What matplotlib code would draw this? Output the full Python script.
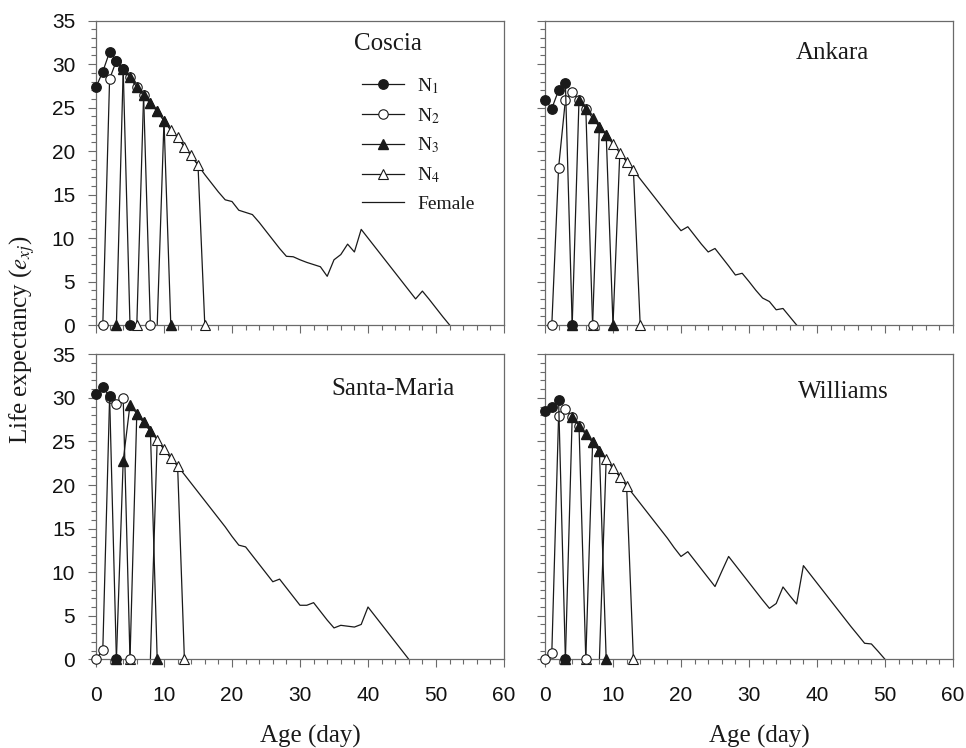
import matplotlib
matplotlib.use("Agg")
import matplotlib.pyplot as plt
from matplotlib.ticker import MultipleLocator, NullFormatter

# ---- data: life expectancy e_xj by age (day) ----
# Coscia
coscia_n1_age = [0, 1, 2, 3, 4, 5]
coscia_n1_e = [27.35, 29.15, 31.4, 30.4, 29.4, 0]
coscia_n2_age = [1, 2, 3, 4, 5, 6, 7, 8]
coscia_n2_e = [0, 28.3, 30.4, 29.4, 28.5, 27.35, 26.4, 0]
coscia_n3_age = [3, 4, 5, 6, 7, 8, 9, 10, 11]
coscia_n3_e = [0, 29.4, 28.5, 27.35, 26.4, 25.5, 24.6, 23.5, 0]
coscia_n4_age = [6, 7, 8, 9, 10, 11, 12, 13, 14, 15, 16]
coscia_n4_e = [0, 26.4, 25.5, 24.6, 23.5, 22.4, 21.6, 20.5, 19.5, 18.4, 0]
coscia_f_age = list(range(9, 53))
coscia_f_e = [0, 23.5, 22.4, 21.6, 20.5, 19.5, 18.4, 17.3, 16.3, 15.3, 14.4,
              14.2, 13.2, 12.95, 12.7, 11.8, 10.8, 9.8, 8.8, 7.9, 7.85, 7.5,
              7.2, 6.95, 6.7, 5.6, 7.5, 8.1, 9.3, 8.4, 11.0, 10.0, 9.0, 8.0,
              7.0, 6.0, 5.0, 4.0, 3.0, 3.9, 2.95, 1.95, 0.95, 0]

# Ankara
ankara_n1_age = [0, 1, 2, 3, 4]
ankara_n1_e = [25.9, 24.9, 27.0, 27.8, 0]
ankara_n2_age = [1, 2, 3, 4, 5, 6, 7]
ankara_n2_e = [0, 18.1, 25.9, 26.8, 25.9, 24.9, 0]
ankara_n3_age = [4, 5, 6, 7, 8, 9, 10]
ankara_n3_e = [0, 25.9, 24.9, 23.8, 22.8, 21.9, 0]
ankara_n4_age = [7, 8, 9, 10, 11, 12, 13, 14]
ankara_n4_e = [0, 22.8, 21.9, 20.8, 19.8, 18.8, 17.8, 0]
ankara_f_age = list(range(10, 38))
ankara_f_e = [0, 19.8, 18.8, 17.8, 16.8, 15.8, 14.8, 13.8, 12.8, 11.8, 10.85,
              11.3, 10.3, 9.3, 8.4, 8.8, 7.8, 6.8, 5.75, 5.95, 5.0, 4.0, 3.1,
              2.7, 1.75, 1.9, 0.95, 0]

# Santa-Maria
santa_n1_age = [0, 1, 2, 3]
santa_n1_e = [30.5, 31.2, 30.2, 0]
santa_n2_age = [0, 1, 2, 3, 4, 5]
santa_n2_e = [0, 1.07, 30.0, 29.3, 30.0, 0]
santa_n3_age = [3, 4, 5, 6, 7, 8, 9]
santa_n3_e = [0, 22.8, 29.2, 28.2, 27.2, 26.2, 0]
santa_n4_age = [5, 6, 7, 8, 9, 10, 11, 12, 13]
santa_n4_e = [0, 28.2, 27.2, 26.2, 25.2, 24.1, 23.1, 22.2, 0]
santa_f_age = list(range(8, 47))
santa_f_e = [0, 25.2, 24.1, 23.1, 22.2, 21.2, 20.2, 19.2, 18.2, 17.2, 16.2,
             15.2, 14.1, 13.1, 12.9, 11.9, 10.9, 9.9, 8.9, 9.2, 8.2, 7.2, 6.2,
             6.2, 6.5, 5.5, 4.5, 3.6, 3.9, 3.8, 3.7, 4.0, 6.0, 5.0, 4.0, 3.0,
             2.0, 1.0, 0]

# Williams
williams_n1_age = [0, 1, 2, 3]
williams_n1_e = [28.5, 29.0, 29.8, 0]
williams_n2_age = [0, 1, 2, 3, 4, 5, 6]
williams_n2_e = [0, 0.7, 27.9, 28.7, 27.85, 26.8, 0]
williams_n3_age = [3, 4, 5, 6, 7, 8, 9]
williams_n3_e = [0, 27.85, 26.8, 25.8, 24.9, 23.9, 0]
williams_n4_age = [6, 7, 8, 9, 10, 11, 12, 13]
williams_n4_e = [0, 24.9, 23.9, 22.96, 21.9, 20.96, 19.9, 0]
williams_f_age = list(range(8, 51))
williams_f_e = [0, 23.0, 21.9, 21.0, 19.9, 18.9, 17.9, 16.9, 15.9, 14.9, 13.9,
                12.8, 11.8, 12.35, 11.35, 10.35, 9.35, 8.35, 10.1, 11.8, 10.8,
                9.8, 8.8, 7.8, 6.8, 5.85, 6.4, 8.3, 7.3, 6.35, 10.75, 9.75,
                8.75, 7.75, 6.75, 5.75, 4.75, 3.75, 2.8, 1.84, 1.76, 0.9, 0]

# ---- style ----
plt.rcParams["font.family"] = "Liberation Sans"
plt.rcParams["mathtext.fontset"] = "stix"
SERIF = "Liberation Serif"
INK = "#1a1a1a"
SPINE = "#6a6a6a"
LW = 0.9
MS = 6.8


def draw_panel(ax, name, name_xy, series, show_ylab, show_xlab):
    (n1x, n1y), (n2x, n2y), (n3x, n3y), (n4x, n4y), (fx, fy) = series
    # 描画順: Female -> N4 -> N2 -> N3 -> N1
    hf, = ax.plot(fx, fy, "-", color=INK, lw=LW, zorder=2, label="Female",
                  clip_on=False)
    h4, = ax.plot(n4x, n4y, "-^", color=INK, lw=LW, ms=MS, mfc="white",
                  mec=INK, mew=0.8, zorder=3, label=r"N$_\mathrm{4}$",
                  clip_on=False)
    h2, = ax.plot(n2x, n2y, "-o", color=INK, lw=LW, ms=MS, mfc="white",
                  mec=INK, mew=0.8, zorder=4, label=r"N$_\mathrm{2}$",
                  clip_on=False)
    h3, = ax.plot(n3x, n3y, "-^", color=INK, lw=LW, ms=MS, mfc=INK,
                  mec=INK, zorder=5, label=r"N$_\mathrm{3}$", clip_on=False)
    h1, = ax.plot(n1x, n1y, "-o", color=INK, lw=LW, ms=MS, mfc=INK,
                  mec=INK, zorder=6, label=r"N$_\mathrm{1}$", clip_on=False)

    ax.set_xlim(0, 60)
    ax.set_ylim(0, 35)
    ax.xaxis.set_major_locator(MultipleLocator(10))
    ax.xaxis.set_minor_locator(MultipleLocator(2))
    ax.yaxis.set_major_locator(MultipleLocator(5))
    ax.yaxis.set_minor_locator(MultipleLocator(1))
    ax.tick_params(axis="both", which="major", direction="out", length=6,
                   width=0.8, color=SPINE, labelsize=15)
    ax.tick_params(axis="both", which="minor", direction="out", length=3.5,
                   width=0.8, color=SPINE)
    ax.tick_params(axis="x", which="major", pad=13)
    ax.tick_params(axis="y", which="major", pad=9)
    for s in ax.spines.values():
        s.set_color(SPINE)
        s.set_linewidth(0.9)
    if not show_ylab:
        ax.yaxis.set_major_formatter(NullFormatter())
    if not show_xlab:
        ax.xaxis.set_major_formatter(NullFormatter())
    for lab in ax.get_xticklabels() + ax.get_yticklabels():
        lab.set_color("#111111")

    ax.text(name_xy[0], name_xy[1], name, transform=ax.transAxes,
            ha="center", va="center", fontsize=18, family=SERIF, color=INK)
    return [h1, h2, h3, h4, hf]


fig = plt.figure(figsize=(9.66, 7.48), dpi=100)
W, H = 966.0, 748.0
ax_tl = fig.add_axes([96 / W, 1 - 325 / H, 408 / W, 304.3 / H])
ax_tr = fig.add_axes([545 / W, 1 - 325 / H, 408 / W, 304.3 / H])
ax_bl = fig.add_axes([96 / W, 1 - 659.3 / H, 408 / W, 305 / H])
ax_br = fig.add_axes([545 / W, 1 - 659.3 / H, 408 / W, 305 / H])

handles = draw_panel(ax_tl, "Coscia", (0.716, 0.924),
                     [(coscia_n1_age, coscia_n1_e), (coscia_n2_age, coscia_n2_e),
                      (coscia_n3_age, coscia_n3_e), (coscia_n4_age, coscia_n4_e),
                      (coscia_f_age, coscia_f_e)], True, False)
draw_panel(ax_tr, "Ankara", (0.705, 0.895),
           [(ankara_n1_age, ankara_n1_e), (ankara_n2_age, ankara_n2_e),
            (ankara_n3_age, ankara_n3_e), (ankara_n4_age, ankara_n4_e),
            (ankara_f_age, ankara_f_e)], False, False)
draw_panel(ax_bl, "Santa-Maria", (0.729, 0.885),
           [(santa_n1_age, santa_n1_e), (santa_n2_age, santa_n2_e),
            (santa_n3_age, santa_n3_e), (santa_n4_age, santa_n4_e),
            (santa_f_age, santa_f_e)], True, True)
draw_panel(ax_br, "Williams", (0.732, 0.877),
           [(williams_n1_age, williams_n1_e), (williams_n2_age, williams_n2_e),
            (williams_n3_age, williams_n3_e), (williams_n4_age, williams_n4_e),
            (williams_f_age, williams_f_e)], False, True)

leg = ax_tl.legend(handles=handles, loc="upper left",
                   bbox_to_anchor=(0.651, 0.818), frameon=False,
                   prop={"family": SERIF, "size": 14}, handlelength=2.2,
                   handletextpad=0.65, labelspacing=0.52, borderpad=0,
                   borderaxespad=0)
for t in leg.get_texts():
    t.set_color(INK)

# axis titles
fig.text(310 / W, 1 - 736 / H, "Age (day)", ha="center", va="center",
         fontsize=18, family=SERIF, color=INK)
fig.text(759 / W, 1 - 736 / H, "Age (day)", ha="center", va="center",
         fontsize=18, family=SERIF, color=INK)
fig.text(22 / W, 1 - 340 / H, r"Life expectancy ($e_{xj}$)", ha="center",
         va="center", rotation=90, fontsize=18, family=SERIF, color=INK)

fig.savefig("out.png", dpi=100)
plt.close(fig)
